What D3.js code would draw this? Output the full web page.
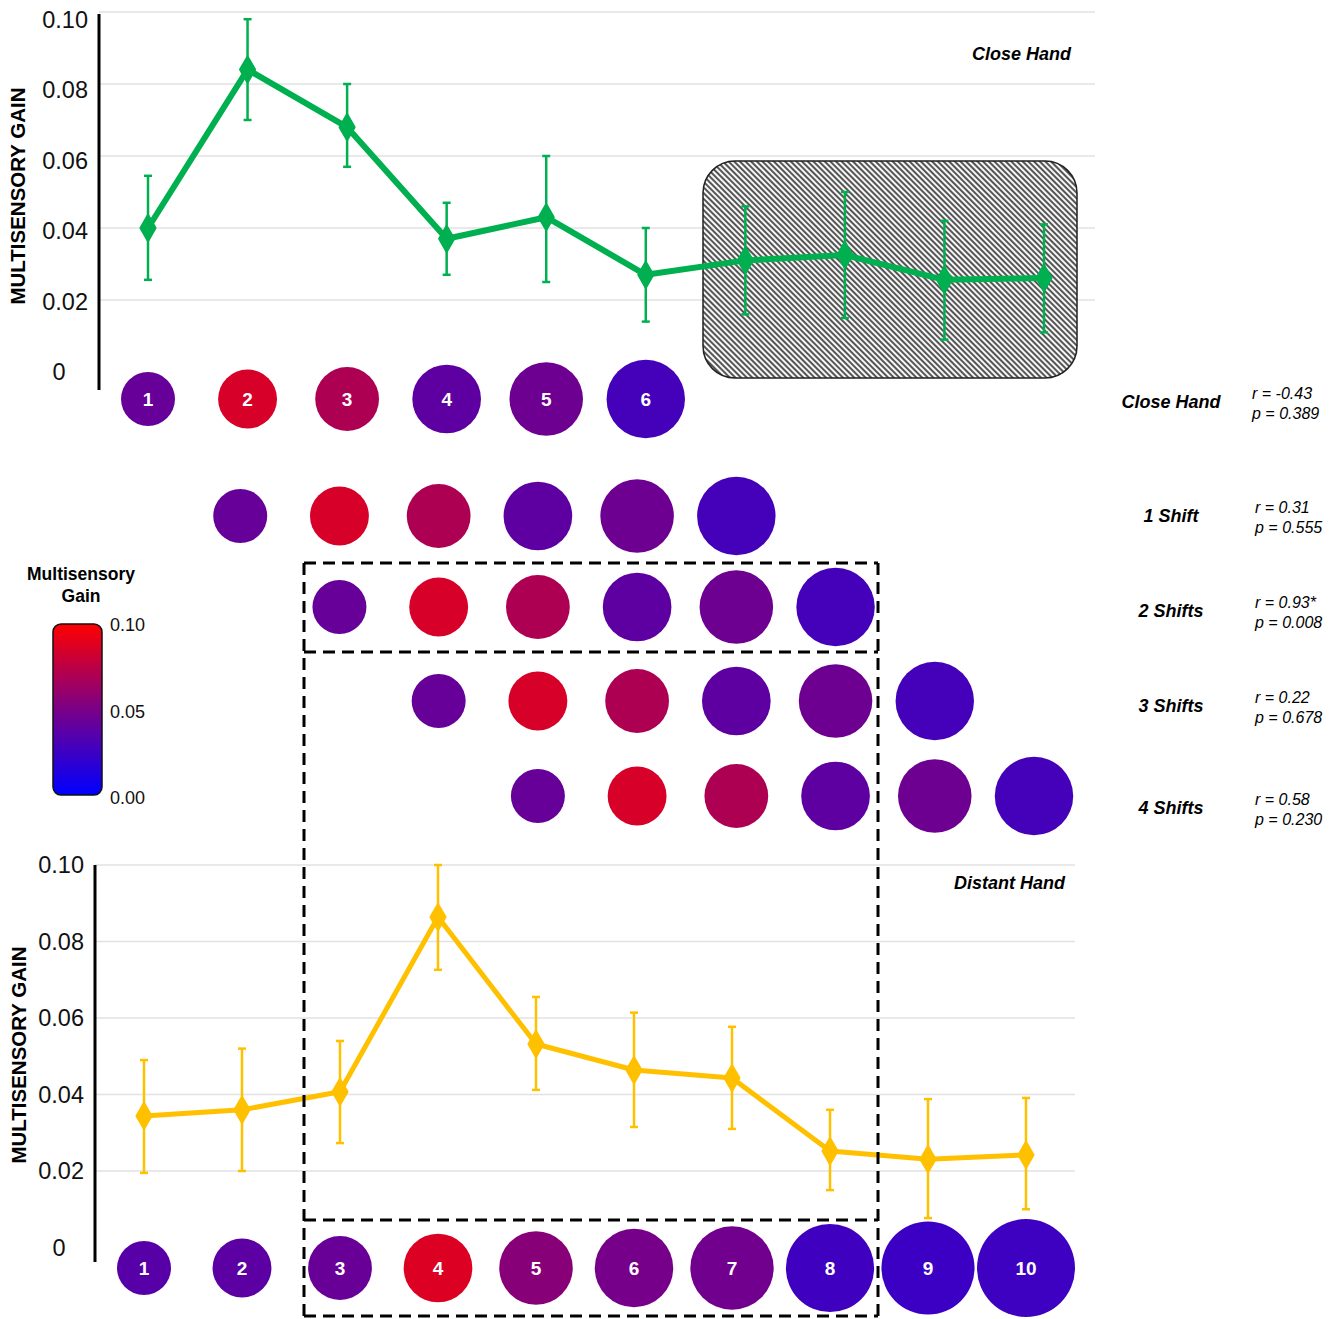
<!DOCTYPE html>
<html>
<head>
<meta charset="utf-8">
<script src="https://cdn.jsdelivr.net/npm/d3@7"></script>
<style>
  body { margin: 0; background: #fff; }
  text { font-family: "Liberation Sans", Arial, sans-serif; }
</style>
</head>
<body>
<svg id="chart" width="1339" height="1319"></svg>
<script>
// positions along the arm
var positions = [1, 2, 3, 4, 5, 6, 7, 8, 9, 10];

// close hand: mean gain and error bar ends
var closeMean = [0.040, 0.084, 0.068, 0.037, 0.043, 0.027, 0.031, 0.0325, 0.0256, 0.0261];
var closeHi   = [0.0545, 0.098, 0.080, 0.047, 0.060, 0.040, 0.046, 0.050, 0.042, 0.041];
var closeLo   = [0.0256, 0.070, 0.057, 0.027, 0.025, 0.014, 0.016, 0.015, 0.009, 0.011];

// distant hand
var distantMean = [0.0344, 0.036, 0.0407, 0.0864, 0.0532, 0.0464, 0.0443, 0.0252, 0.0231, 0.0242];
var distantHi   = [0.049, 0.052, 0.054, 0.100, 0.0655, 0.0614, 0.0577, 0.036, 0.0388, 0.0391];
var distantLo   = [0.0195, 0.020, 0.0273, 0.0726, 0.0412, 0.0315, 0.031, 0.015, 0.0077, 0.010];

var yTicks = [0, 0.02, 0.04, 0.06, 0.08, 0.10];

// correlation rows
var rowLabels = ["Close Hand", "1 Shift", "2 Shifts", "3 Shifts", "4 Shifts"];
var shifts = [0, 1, 2, 3, 4];
var rVals = ["-0.43", "0.31", "0.93*", "0.22", "0.58"];
var pVals = ["0.389", "0.555", "0.008", "0.678", "0.230"];

var legendTicks = [0, 0.05, 0.10];

var svg = d3.select('#chart');

var color = function(v) { return d3.interpolateRgb('#0000ff', '#ff0000')(v / 0.1); };
var radius = d3.scaleLinear().domain([1, 10]).range([27, 49]);

// scales
var xTop = d3.scaleLinear().domain([1, 10]).range([148, 1044]);
var yTop = d3.scaleLinear().domain([0, 0.1]).range([372, 12]);
var xBot = d3.scaleLinear().domain([1, 10]).range([144, 1026]);
var yBot = d3.scaleLinear().domain([0, 0.1]).range([1247.5, 865]);
var xShift = d3.scaleLinear().domain([1, 10]).range([141, 1034]);

// hatch pattern
var defs = svg.append('defs');
defs.append('pattern')
  .attr('id', 'hatch')
  .attr('patternUnits', 'userSpaceOnUse')
  .attr('width', 4).attr('height', 4)
  .attr('patternTransform', 'rotate(-45)')
  .call(p => {
    p.append('rect').attr('width', 4).attr('height', 4).attr('fill', '#f6f6f6');
    p.append('line').attr('x1', 1).attr('x2', 1).attr('y1', 0).attr('y2', 4)
      .attr('stroke', '#444').attr('stroke-width', 1.8);
  });

var grad = defs.append('linearGradient').attr('id', 'legGrad')
  .attr('x1', 0).attr('x2', 0).attr('y1', 0).attr('y2', 1);
grad.append('stop').attr('offset', '0%').attr('stop-color', '#ff0000');
grad.append('stop').attr('offset', '50%').attr('stop-color', '#7a0088');
grad.append('stop').attr('offset', '100%').attr('stop-color', '#0000ff');

function drawPanel(opts) {
  var g = svg.append('g');

  // gridlines
  g.selectAll('line.grid')
    .data(yTicks.filter(d => d > 0))
    .enter().append('line')
    .attr('class', 'grid')
    .attr('x1', opts.axisX).attr('x2', opts.gridEnd)
    .attr('y1', d => opts.y(d)).attr('y2', d => opts.y(d))
    .attr('stroke', '#e2e2e2').attr('stroke-width', 1.5);

  // tick labels through d3 axis
  var ax = g.append('g')
    .attr('transform', `translate(${opts.axisX},0)`)
    .call(d3.axisLeft(opts.y).tickValues(yTicks).tickSize(0).tickPadding(11)
      .tickFormat(d => d === 0 ? '0' : d3.format('.2f')(d)));
  ax.select('.domain').remove();
  ax.selectAll('text')
    .attr('font-size', 23.5).attr('fill', '#111')
    .style('font-family', '"Liberation Sans", Arial, sans-serif')
    .attr('transform', d => `translate(0,${opts.labelShift(d)})`);
  ax.selectAll('.tick').filter(d => d === 0).select('text')
    .attr('text-anchor', 'middle').attr('x', 59 - opts.axisX);

  g.append('line')
    .attr('x1', opts.axisX).attr('x2', opts.axisX)
    .attr('y1', opts.axisTop).attr('y2', opts.axisBottom)
    .attr('stroke', '#000').attr('stroke-width', 3);

  g.append('text')
    .attr('transform', `translate(${opts.titleX},${opts.titleY}) rotate(-90)`)
    .attr('text-anchor', 'middle').attr('dy', '0.35em')
    .attr('font-size', 20.5).attr('font-weight', 'bold')
    .text('MULTISENSORY GAIN');

  g.append('text')
    .attr('x', opts.nameX).attr('y', opts.nameY)
    .attr('text-anchor', 'end').attr('dy', '0.35em')
    .attr('font-size', 18).attr('font-weight', 'bold').attr('font-style', 'italic')
    .text(opts.name);

  if (opts.before) opts.before(g);

  // error bars
  var eb = g.selectAll('g.err').data(positions).enter().append('g');
  eb.append('line')
    .attr('x1', d => opts.x(d)).attr('x2', d => opts.x(d))
    .attr('y1', (d, i) => opts.y(opts.hi[i])).attr('y2', (d, i) => opts.y(opts.lo[i]))
    .attr('stroke', opts.color).attr('stroke-width', 2.5);
  [opts.hi, opts.lo].forEach(arr => {
    eb.append('line')
      .attr('x1', d => opts.x(d) - 4).attr('x2', d => opts.x(d) + 4)
      .attr('y1', (d, i) => opts.y(arr[i])).attr('y2', (d, i) => opts.y(arr[i]))
      .attr('stroke', opts.color).attr('stroke-width', 2.5);
  });

  var line = d3.line().x((d, i) => opts.x(positions[i])).y(d => opts.y(d));
  g.append('path')
    .datum(opts.mean)
    .attr('d', line)
    .attr('fill', 'none').attr('stroke', opts.color)
    .attr('stroke-width', opts.lineWidth).attr('stroke-linejoin', 'round');

  g.selectAll('path.pt').data(opts.mean).enter().append('path')
    .attr('class', 'pt')
    .attr('transform', (d, i) => `translate(${opts.x(positions[i])},${opts.y(d)})`)
    .attr('d', d3.symbol().type(d3.symbolDiamond).size(170))
    .attr('fill', opts.color).attr('stroke', opts.color)
    .attr('stroke-width', 3).attr('stroke-linejoin', 'round');
}

drawPanel({
  x: xTop, y: yTop, axisX: 99, gridEnd: 1095, axisTop: 14, axisBottom: 390,
  labelShift: d => d / 0.1 * 8, titleX: 18, titleY: 196,
  name: 'Close Hand', nameX: 1071, nameY: 54,
  mean: closeMean, hi: closeHi, lo: closeLo, color: '#00b050', lineWidth: 6,
  before: g => {
    g.append('rect')
      .attr('x', 703).attr('y', 161).attr('width', 374).attr('height', 217)
      .attr('rx', 32).attr('ry', 32)
      .attr('fill', 'url(#hatch)').attr('stroke', '#222').attr('stroke-width', 1.5);
  }
});

drawPanel({
  x: xBot, y: yBot, axisX: 95, gridEnd: 1075, axisTop: 865, axisBottom: 1262,
  labelShift: d => 0, titleX: 19, titleY: 1055,
  name: 'Distant Hand', nameX: 1065, nameY: 883,
  mean: distantMean, hi: distantHi, lo: distantLo, color: '#ffc000', lineWidth: 5
});

// dashed boxes, drawn as separate lines so shared edges stay dashed
var dash = svg.append('g').attr('fill', 'none').attr('stroke', '#000')
  .attr('stroke-width', 3).attr('stroke-dasharray', '12,7');
[563, 652, 1220, 1316].forEach(y => {
  dash.append('line').attr('x1', 304).attr('x2', 878).attr('y1', y).attr('y2', y);
});
[304, 878].forEach(x => {
  dash.append('line').attr('x1', x).attr('x2', x).attr('y1', 563).attr('y2', 1316);
});

// circle rows
var rowY = [399, 516, 607, 701, 796];

function bubbles(data, cy, labelled) {
  var g = svg.append('g');
  var n = g.selectAll('g').data(data).enter().append('g')
    .attr('transform', d => `translate(${d.x},${cy})`);
  n.append('circle').attr('r', d => d.r).attr('fill', d => color(d.v));
  if (labelled) {
    n.append('text').attr('text-anchor', 'middle').attr('dy', '0.36em')
      .attr('fill', '#fff').attr('font-weight', 'bold').attr('font-size', 19)
      .text(d => d.p);
  }
}

shifts.forEach((s, k) => {
  var items = closeMean.slice(0, 6).map((v, i) => ({
    p: positions[i],
    x: s === 0 ? xTop(positions[i]) : xShift(positions[i] + s),
    r: radius(positions[i]),
    v: v
  }));
  bubbles(items, rowY[k], s === 0);
});

bubbles(distantMean.map((v, i) => ({ p: positions[i], x: xBot(positions[i]), r: radius(positions[i]), v: v })), 1268, true);

// stats on the right
var stats = svg.append('g');
rowLabels.forEach((lab, k) => {
  var cy = [402, 516, 611, 706, 808][k];
  var rx = k === 0 ? 1252 : 1255;
  stats.append('text').attr('x', 1171).attr('y', cy).attr('dy', '0.35em')
    .attr('text-anchor', 'middle').attr('font-size', 18)
    .attr('font-weight', 'bold').attr('font-style', 'italic').text(lab);
  stats.append('text').attr('x', rx).attr('y', cy - 9).attr('dy', '0.35em')
    .attr('font-size', 16).attr('font-style', 'italic').text('r = ' + rVals[k]);
  stats.append('text').attr('x', rx).attr('y', cy + 11).attr('dy', '0.35em')
    .attr('font-size', 16).attr('font-style', 'italic').text('p = ' + pVals[k]);
});

// colour legend
var leg = svg.append('g');
leg.append('text').attr('x', 81).attr('y', 574).attr('dy', '0.35em')
  .attr('text-anchor', 'middle').attr('font-size', 17.5).attr('font-weight', 'bold')
  .text('Multisensory');
leg.append('text').attr('x', 81).attr('y', 596).attr('dy', '0.35em')
  .attr('text-anchor', 'middle').attr('font-size', 17.5).attr('font-weight', 'bold')
  .text('Gain');
var yLeg = d3.scaleLinear().domain([0, 0.1]).range([798, 625]);
leg.append('rect').attr('x', 53).attr('y', 624).attr('width', 49).attr('height', 171)
  .attr('rx', 8).attr('ry', 8).attr('fill', 'url(#legGrad)')
  .attr('stroke', '#111').attr('stroke-width', 1.5);
leg.selectAll('text.lt').data(legendTicks).enter().append('text')
  .attr('class', 'lt')
  .attr('x', 110).attr('y', d => yLeg(d)).attr('dy', '0.35em')
  .attr('font-size', 18).attr('fill', '#111')
  .text(d => d3.format('.2f')(d));
</script>
</body>
</html>
